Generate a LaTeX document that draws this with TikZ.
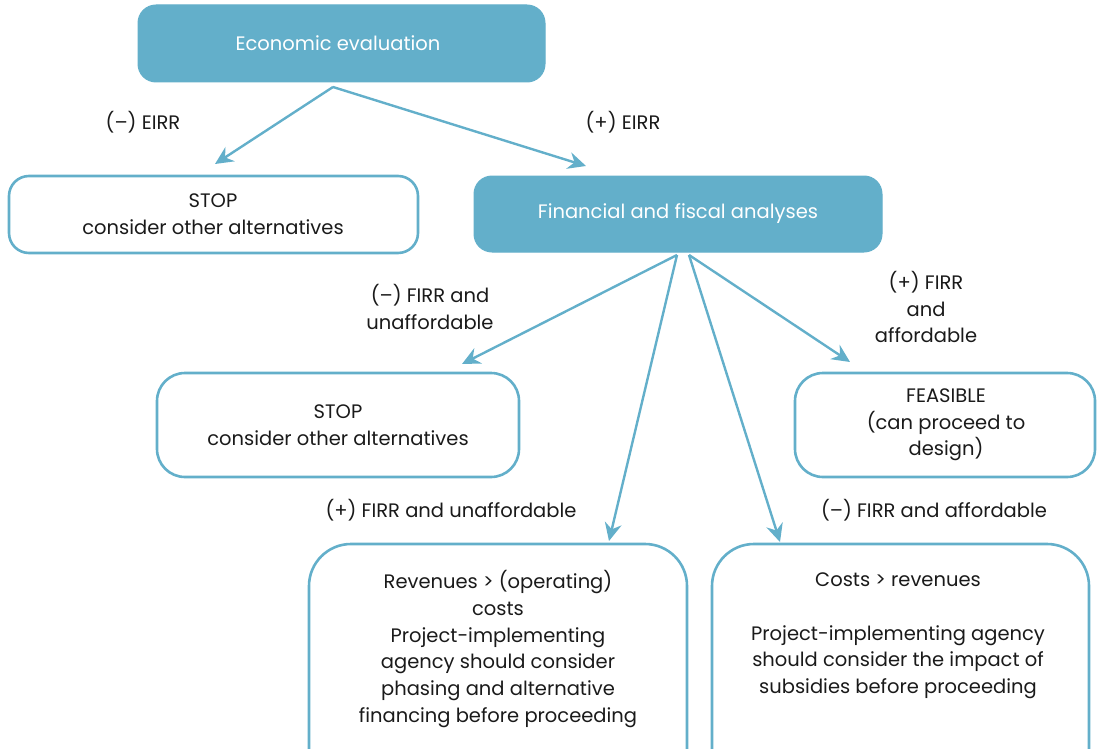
\documentclass[tikz,border=0pt]{standalone}
\usepackage{fontspec}
\setmainfont{Poppins}
\usetikzlibrary{arrows.meta}
\definecolor{teal}{HTML}{63AFCA}
\definecolor{ink}{HTML}{1A1A1A}
\tikzset{
  filledbox/.style={fill=teal, draw=teal, line width=1pt, rounded corners=18pt},
  outlinebox/.style={draw=teal, line width=2.6pt},
  txt/.style={text=ink, align=center, font=\fontsize{19.5}{26.7}\selectfont, inner sep=0pt},
  wtxt/.style={text=white, align=center, font=\fontsize{19.5}{26.7}\selectfont, inner sep=0pt},
  conn/.style={draw=teal, line width=2.4pt, -{Stealth[length=18pt,width=17pt,inset=6pt]}},
}
\begin{document}
\begin{tikzpicture}[x=1pt,y=-1pt]
\useasboundingbox (0,0) rectangle (1097,749);
\clip (0,0) rectangle (1097,749);
% boxes
\path[filledbox] (138,5) rectangle (545,82);
\node[wtxt] (eco) at (338,43) {Economic evaluation};
\path[filledbox] (474,176) rectangle (882,252);
\node[wtxt] (fin) at (678,214) {Financial and fiscal analyses};
\draw[outlinebox, rounded corners=20pt] (9,176) rectangle (418,253);
\node[txt] (stop1) at (213,214) {STOP\\consider other alternatives};
\draw[outlinebox, rounded corners=28pt] (157,373) rectangle (519,477);
\node[txt] (stop2) at (338,425) {STOP\\consider other alternatives};
\draw[outlinebox, rounded corners=28pt] (795,373) rectangle (1095,477);
\node[txt] (feas) at (946,425) {FEASIBLE\\(can proceed to\\design)};
\draw[outlinebox, rounded corners=42pt] (309,544) rectangle (687,800);
\node[txt] (rev) at (498,649) {Revenues > (operating)\\costs\\Project-implementing\\agency should consider\\phasing and alternative\\financing before proceeding};
\draw[outlinebox, rounded corners=42pt] (712,544) rectangle (1089,800);
\node[txt] (cost) at (898,636) {Costs > revenues\\[26.7pt]Project-implementing agency\\should consider the impact of\\subsidies before proceeding};
% labels
\node[txt] (l1) at (143,122) {(\textendash) EIRR};
\node[txt] (l2) at (623,122) {(+) EIRR};
\node[txt] (l3) at (430,307) {(\textendash) FIRR and\\unaffordable};
\node[txt] (l4) at (926,307) {(+) FIRR\\and\\affordable};
\node[txt] (l5) at (451,510) {(+) FIRR and unaffordable};
\node[txt] (l6) at (934,510) {(\textendash) FIRR and affordable};
% connector points
\coordinate (e0) at (333,87);
\coordinate (e1) at (215,164);
\coordinate (e2) at (586,166);
\coordinate (f0) at (677,255);
\coordinate (f1) at (689,255);
\coordinate (t1) at (462,364);
\coordinate (t2) at (609,541);
\coordinate (t3) at (780,542);
\coordinate (t4) at (850,362);
\draw[conn] (e0) -- (e1);
\draw[conn] (e0) -- (e2);
\draw[conn] (f0) -- (t1);
\draw[conn] (f0) -- (t2);
\draw[conn] (f1) -- (t3);
\draw[conn] (f1) -- (t4);
\end{tikzpicture}
\end{document}
